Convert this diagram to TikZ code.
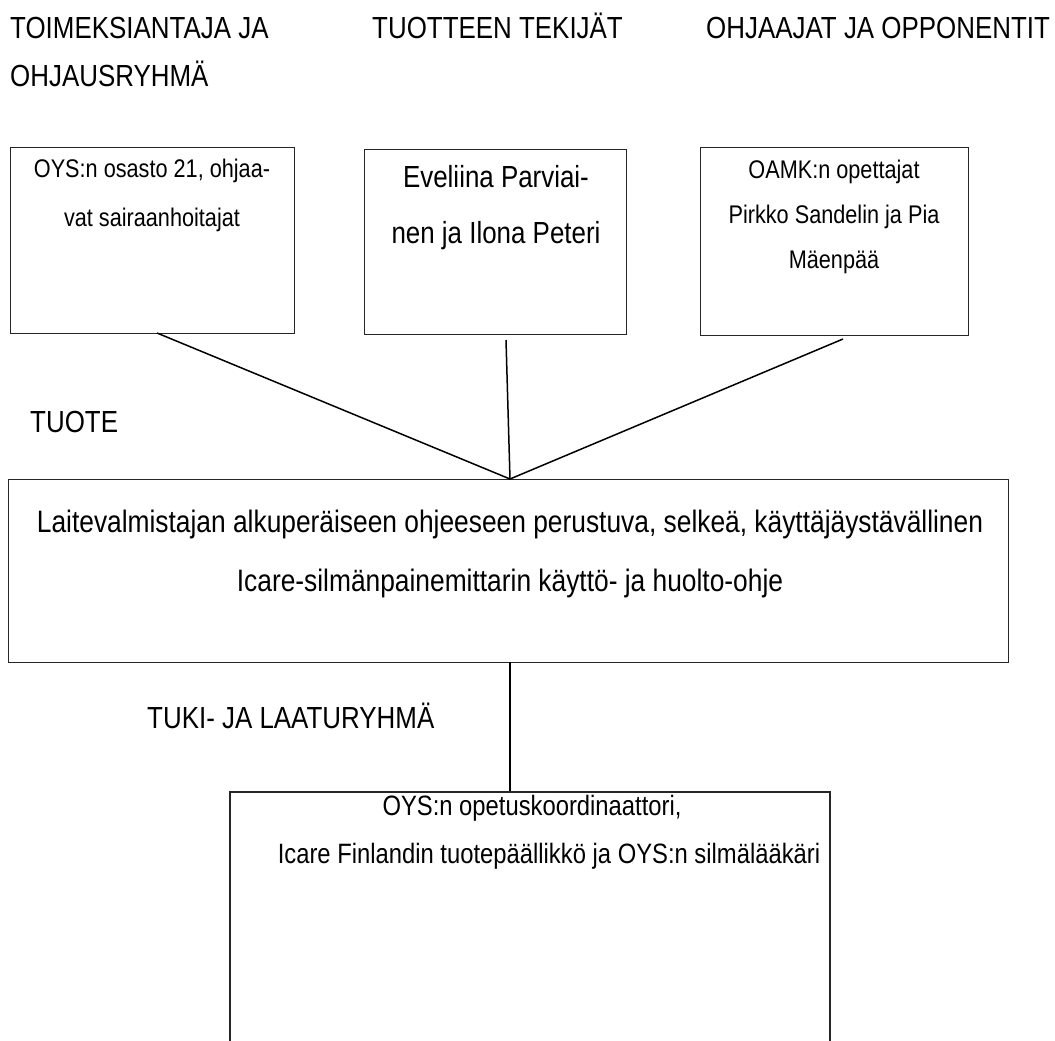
\documentclass[tikz,border=0pt]{standalone}
\usepackage{fontspec}
\setmainfont{Liberation Sans}[FakeStretch=0.85]
\begin{document}
\begin{tikzpicture}[x=1pt,y=-1pt,
  box/.style={draw=black!85, line width=1.2pt, anchor=north west, inner sep=0pt},
  conn/.style={draw=black, line width=1.5pt},
  big/.style={anchor=base, inner sep=0pt, font=\fontsize{30.5}{30.5}\selectfont},
  bigw/.style={anchor=base west, inner sep=0pt, font=\fontsize{30.5}{30.5}\selectfont},
  small/.style={anchor=base, inner sep=0pt, font=\fontsize{25.5}{25.5}\selectfont},
  mid/.style={anchor=base, inner sep=0pt, font=\fontsize{28}{28}\selectfont},
]
\useasboundingbox (0,0) rectangle (1055,1041);
\fill[white] (0,0) rectangle (1055,1041);

% headers
\node[bigw] (h1) at (10,39) {TOIMEKSIANTAJA JA};
\node[bigw] (h1b) at (10,86) {OHJAUSRYHMÄ};
\node[bigw] (h2) at (372,39) {TUOTTEEN TEKIJÄT};
\node[bigw] (h3) at (706,39) {OHJAAJAT JA OPPONENTIT};

% top boxes
\node[box, minimum width=284pt, minimum height=186pt] (b1) at (10,147) {};
\node[small] (b1a) at (152,177) {OYS:n osasto 21, ohjaa-};
\node[small] (b1b) at (152,226) {vat sairaanhoitajat};

\node[box, minimum width=262pt, minimum height=185pt] (b2) at (364,149) {};
\node[big] (b2a) at (496,187) {Eveliina Parviai-};
\node[big] (b2b) at (496,243) {nen ja Ilona Peteri};

\node[box, minimum width=268pt, minimum height=188pt] (b3) at (700,147) {};
\node[small] (b3a) at (834,178) {OAMK:n opettajat};
\node[small] (b3b) at (834,223) {Pirkko Sandelin ja Pia};
\node[small] (b3c) at (834,268) {Mäenpää};

% product
\node[bigw] (tuote) at (30,432) {TUOTE};
\node[box, minimum width=1000pt, minimum height=183pt] (b4) at (8,479) {};
\node[big, font=\fontsize{31}{31}\selectfont] (b4a) at (510,532) {Laitevalmistajan alkuperäiseen ohjeeseen perustuva, selkeä, käyttäjäystävällinen};
\node[big, font=\fontsize{31}{31}\selectfont] (b4b) at (510,591) {Icare-silmänpainemittarin käyttö- ja huolto-ohje};

\coordinate (apex) at (510,479);
\coordinate (s1) at (157,333);
\coordinate (s2) at (506,340);
\coordinate (s3) at (843,339);
\draw[conn] (s1) -- (apex);
\draw[conn] (s2) -- (apex);
\draw[conn] (s3) -- (apex);

% support group
\node[bigw] (tuki) at (147,728) {TUKI- JA LAATURYHMÄ};
\coordinate (b4bot) at (510,662);
\coordinate (b5top) at (510,792);
\draw[conn] (b4bot) -- (b5top);
\draw[draw=black!85, line width=1.2pt] (230,1060) -- (230,792) -- (830,792) -- (830,1060);
\node[mid] (b5a) at (532,815) {OYS:n opetuskoordinaattori,};
\node[mid] (b5b) at (549,863) {Icare Finlandin tuotepäällikkö ja OYS:n silmälääkäri};
\end{tikzpicture}
\end{document}
